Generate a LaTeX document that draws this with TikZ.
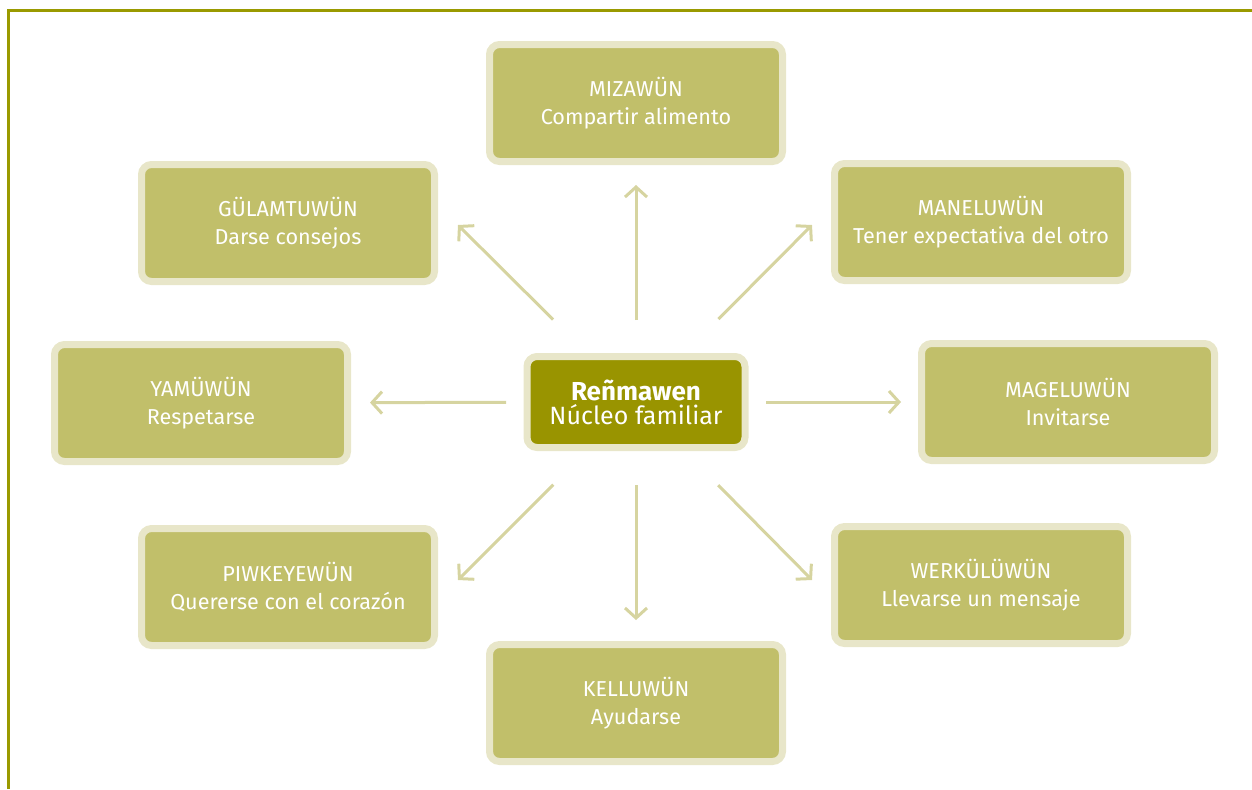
\documentclass[tikz,border=0pt]{standalone}
\usepackage{fontspec}
\setmainfont{Fira Sans}
\usepackage{tikz}

\definecolor{boxfill}{RGB}{193,191,106}
\definecolor{boxline}{RGB}{232,230,201}
\definecolor{corefill}{RGB}{153,148,0}
\definecolor{arrowcol}{RGB}{214,212,160}
\definecolor{framecol}{RGB}{154,154,0}

\tikzset{
    kinbox/.style={rectangle, rounded corners=5pt, fill=boxfill, draw=boxline,
        line width=3.5pt, minimum width=146.5pt, minimum height=58.5pt,
        text=white, align=center, font=\fontsize{10.8}{14}\selectfont},
    corebox/.style={kinbox, fill=corefill, minimum width=109pt, minimum height=45.5pt,
        font=\fontsize{12.5}{12}\selectfont},
    link/.style={draw=arrowcol, line width=1.5pt, -{Straight Barb[length=5pt,width=11pt]}},
}
\usetikzlibrary{arrows.meta}

\begin{document}
\begin{tikzpicture}[x=0.5pt, y=-0.5pt]
\useasboundingbox (0,0) rectangle (1252,789);

% frame
\draw[framecol, line width=1.5pt] (8,789) -- (8,10) -- (1252,10);

\node[corebox] (core) at (636,402){{\fontsize{13}{12}\selectfont\textbf{Reñmawen}}\\Núcleo familiar};

\node[kinbox] (mizawun) at (636,103){MIZAWÜN\\Compartir alimento};
\node[kinbox] (gulam) at (288,223){GÜLAMTUWÜN\\Darse consejos};
\node[kinbox] (manel) at (981,222){MANELUWÜN\\Tener expectativa del otro};
\node[kinbox] (yamu) at (201,403){YAMÜWÜN\\Respetarse};
\node[kinbox] (magel) at (1068,402){MAGELUWÜN\\Invitarse};
\node[kinbox] (piwke) at (288,587){PIWKEYEWÜN\\Quererse con el corazón};
\node[kinbox] (werku) at (981,585){WERKÜLÜWÜN\\Llevarse un mensaje};
\node[kinbox] (kellu) at (636,703){KELLUWÜN\\Ayudarse};

% free ends of the slanted arrows
\coordinate (gulam-tip) at (458,225);
\coordinate (manel-tip) at (812,225);
\coordinate (piwke-tip) at (458,580);
\coordinate (werku-tip) at (812,580);

\draw [link, shorten <=41pt, shorten >=41pt] (core.center) -- (mizawun.center);
\draw [link, shorten <=41.5pt, shorten >=41.5pt] (core.center) -- (kellu.center);
\draw [link, shorten <=65pt, shorten >=84.5pt] (core.center) -- (yamu.center);
\draw [link, shorten <=65pt, shorten >=83.5pt] (core.center) -- (magel.center);

\draw [link, shorten <=58.5pt] (core.center) -- (gulam-tip);
\draw [link, shorten <=58.5pt] (core.center) -- (manel-tip);
\draw [link, shorten <=58.5pt] (core.center) -- (piwke-tip);
\draw [link, shorten <=58.5pt] (core.center) -- (werku-tip);

\end{tikzpicture}
\end{document}
